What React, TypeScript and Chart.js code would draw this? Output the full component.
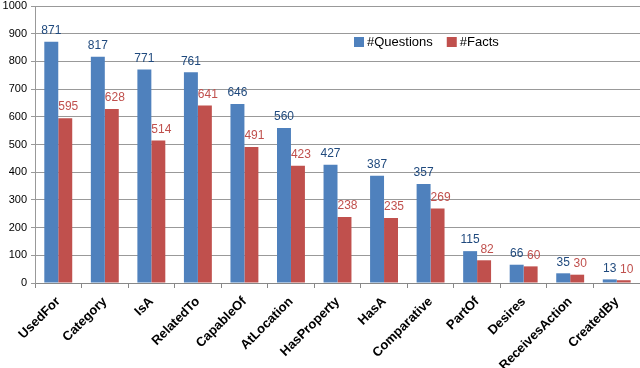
import React, { useEffect, useRef } from "react";
import { Chart, registerables } from "chart.js";

Chart.register(...registerables);

const categories = ["UsedFor", "Category", "IsA", "RelatedTo", "CapableOf", "AtLocation", "HasProperty", "HasA", "Comparative", "PartOf", "Desires", "ReceivesAction", "CreatedBy"];
const questions = [871, 817, 771, 761, 646, 560, 427, 387, 357, 115, 66, 35, 13];
const facts = [595, 628, 514, 641, 491, 423, 238, 235, 269, 82, 60, 30, 10];
const seriesNames = ["#Questions", "#Facts"];
const barColors = ["#4F81BD", "#C0504D"];
const labelColors = ["#1F497D", "#C0504D"];

const valueLabels = {
  id: "valueLabels",
  afterDatasetsDraw(chart: any) {
    const ctx = chart.ctx;
    ctx.save();
    ctx.font = "12px 'Liberation Sans', Arial, sans-serif";
    ctx.textAlign = "center";
    ctx.textBaseline = "bottom";
    chart.data.datasets.forEach((ds: any, di: number) => {
      const meta = chart.getDatasetMeta(di);
      ctx.fillStyle = labelColors[di];
      meta.data.forEach((bar: any, i: number) => {
        const dx = di === 1 ? 3 : 0;
        ctx.fillText(String(ds.data[i]), bar.x + dx, bar.y - 5);
      });
    });
    ctx.restore();
  },
};

const customLegend = {
  id: "customLegend",
  afterDraw(chart: any) {
    const ctx = chart.ctx;
    ctx.save();
    ctx.font = "13px 'Liberation Sans', Arial, sans-serif";
    ctx.textBaseline = "middle";
    let x = 354;
    const y = 42;
    seriesNames.forEach((name, i) => {
      ctx.fillStyle = barColors[i];
      ctx.fillRect(x, y - 5, 10, 10);
      ctx.fillStyle = "#000";
      ctx.fillText(name, x + 13, y);
      x += 13 + ctx.measureText(name).width + 14;
    });
    ctx.restore();
  },
};

export default function App() {
  const ref = useRef<HTMLCanvasElement>(null);
  useEffect(() => {
    document.body.style.margin = "0";
    const chart = new Chart(ref.current as HTMLCanvasElement, {
      type: "bar",
      data: {
        labels: categories,
        datasets: [
          { label: seriesNames[0], data: questions, backgroundColor: barColors[0] },
          { label: seriesNames[1], data: facts, backgroundColor: barColors[1] },
        ],
      },
      options: {
        animation: false,
        responsive: false,
        layout: { padding: 0 },
        datasets: { bar: { barPercentage: 1, categoryPercentage: 0.6 } },
        plugins: { legend: { display: false }, tooltip: { enabled: false } },
        scales: {
          x: {
            grid: { display: true, drawOnChartArea: false, offset: true, color: "#888", tickLength: 5 },
            border: { color: "#888" },
            ticks: {
              minRotation: 45,
              maxRotation: 45,
              color: "#000",
              padding: 6,
              font: { family: "'Liberation Sans', Arial, sans-serif", size: 13, weight: "bold" },
            },
            afterFit(scale: any) { scale.height = 85; },
          },
          y: {
            min: 0,
            max: 1000,
            ticks: {
              stepSize: 100,
              color: "#000",
              padding: 4,
              callback: (v: any) => String(v),
              font: { family: "'Liberation Sans', Arial, sans-serif", size: 11 },
            },
            grid: { color: "#999", tickLength: 4 },
            border: { color: "#999" },
            afterFit(scale: any) { scale.width = 35; scale.paddingTop = 6; scale.paddingBottom = 0; },
          },
        },
      },
      plugins: [valueLabels, customLegend],
    });
    return () => chart.destroy();
  }, []);
  return <canvas ref={ref} width={640} height={368} style={{ display: "block" }} />;
}
